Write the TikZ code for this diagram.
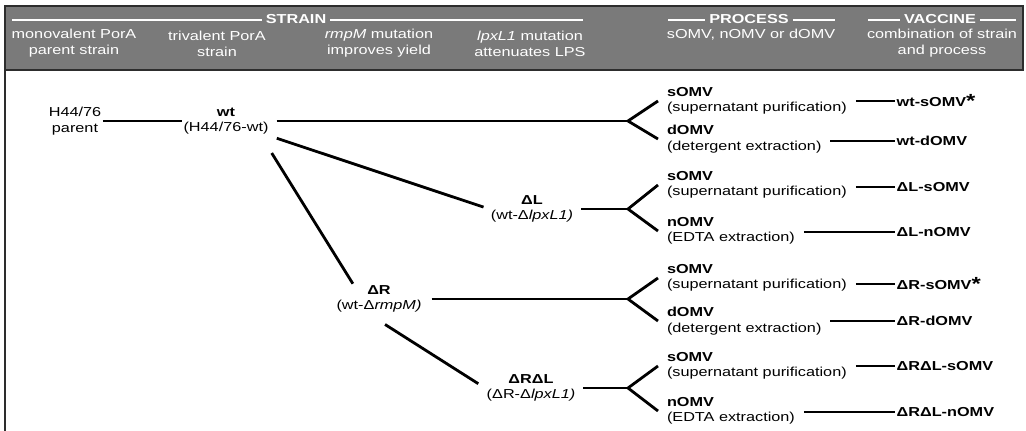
\documentclass[tikz,border=0pt]{standalone}
\usepackage{fontspec}
\setmainfont{Liberation Sans}[FakeStretch=1.25]
\definecolor{headgray}{RGB}{122,122,122}
\definecolor{headedge}{RGB}{45,45,45}
\newcommand{\bigast}{\raisebox{-1pt}{\fontsize{19}{19}\selectfont *}}
\begin{document}
\begin{tikzpicture}[x=1pt, y=-1pt,
    every node/.style={font=\fontsize{13}{15.5}\selectfont},
    strain/.style={align=center, inner sep=1.5pt},
    proc/.style={align=left, anchor=west, inner xsep=0pt, outer xsep=9pt},
    vac/.style={anchor=west, inner xsep=1.5pt, font=\fontsize{13}{15.5}\selectfont\bfseries},
    head/.style={text=white, inner xsep=4pt, font=\fontsize{13}{15.5}\selectfont\bfseries},
    sub/.style={text=white, align=center, font=\fontsize{13}{16}\selectfont},
    link/.style={line width=2.8pt},
    hline/.style={white, line width=2pt}]

    \useasboundingbox (0,0) rectangle (1026,431);

    % Header band
    \draw[fill=headgray, draw=headedge, line width=1.5pt] (5,6) rectangle (1023,70);
    \draw[headedge, line width=2pt] (5,70) -- (5,431);

    % Header titles
    \node[head] (tS) at (296,19.5) {STRAIN};
    \node[head] (tP) at (749,19.5) {PROCESS};
    \node[head] (tV) at (940,19.5) {VACCINE};
    \coordinate (sA) at (12,19.5);
    \coordinate (sB) at (583,19.5);
    \coordinate (pA) at (668,19.5);
    \coordinate (pB) at (835,19.5);
    \coordinate (vA) at (868,19.5);
    \coordinate (vB) at (1016,19.5);
    \draw[hline] (sA) -- (tS);
    \draw[hline] (tS) -- (sB);
    \draw[hline] (pA) -- (tP);
    \draw[hline] (tP) -- (pB);
    \draw[hline] (vA) -- (tV);
    \draw[hline] (tV) -- (vB);

    % Header subtitles
    \node[sub] (h1) at (74,43.5) {monovalent PorA\\parent strain};
    \node[sub] (h2) at (217,43.5) {trivalent PorA\\strain};
    \node[sub] (h3) at (379,43.5) {\textit{rmpM} mutation\\improves yield};
    \node[sub] (h4) at (530,43.5) {\textit{lpxL1} mutation\\attenuates LPS};
    \node[sub] (h5) at (751,34.5) {sOMV, nOMV or dOMV};
    \node[sub] (h6) at (942,43.5) {combination of strain\\and process};

    % Strains
    \node[strain] (par) at (75,121) {H44/76\\parent};
    \node[strain] (wt) at (226,121) {\textbf{wt}\\(H44/76-wt)};
    \node[strain] (dL) at (532,209) {\textbf{ΔL}\\(wt-Δ\textit{lpxL1)}};
    \node[strain] (dR) at (379,299) {\textbf{ΔR}\\(wt-Δ\textit{rmpM)}};
    \node[strain] (dRL) at (531,388) {\textbf{ΔRΔL}\\(ΔR-Δ\textit{lpxL1)}};

    % Forks
    \coordinate (f1) at (628,121);
    \coordinate (f2) at (628,209);
    \coordinate (f3) at (628,299);
    \coordinate (f4) at (628,388);

    % Processes
    \node[proc] (p1) at (658,101) {\textbf{sOMV}\\(supernatant purification)};
    \node[proc] (p2) at (658,139) {\textbf{dOMV}\\(detergent extraction)};
    \node[proc] (p3) at (658,185) {\textbf{sOMV}\\(supernatant purification)};
    \node[proc] (p4) at (658,231) {\textbf{nOMV}\\(EDTA extraction)};
    \node[proc] (p5) at (658,278) {\textbf{sOMV}\\(supernatant purification)};
    \node[proc] (p6) at (658,321) {\textbf{dOMV}\\(detergent extraction)};
    \node[proc] (p7) at (658,366) {\textbf{sOMV}\\(supernatant purification)};
    \node[proc] (p8) at (658,411) {\textbf{nOMV}\\(EDTA extraction)};

    % Vaccines
    \node[vac] (v1) at (895,101) {wt-sOMV\bigast};
    \node[vac] (v2) at (895,141) {wt-dOMV};
    \node[vac] (v3) at (895,187) {ΔL-sOMV};
    \node[vac] (v4) at (895,232) {ΔL-nOMV};
    \node[vac] (v5) at (895,284) {ΔR-sOMV\bigast};
    \node[vac] (v6) at (895,321) {ΔR-dOMV};
    \node[vac] (v7) at (895,366) {ΔRΔL-sOMV};
    \node[vac] (v8) at (895,412) {ΔRΔL-nOMV};

    % Strain lineage
    \draw[link] (par) -- (wt);
    \draw[link, shorten <=7pt, shorten >=6pt] (wt.south east) -- (dL.west);
    \draw[link, shorten <=20pt] ([xshift=-9pt]wt.south east) -- ([xshift=18pt]dR.north west);
    \draw[link, shorten <=19pt, shorten >=8pt] ([xshift=-10pt]dR.south) -- (dRL.west);

    % Strain to fork
    \draw[link, shorten <=6.5pt] (wt) -- (f1);
    \draw[link, shorten <=6.5pt] (dL) -- (f2);
    \draw[link, shorten <=8.5pt] (dR) -- (f3);
    \draw[link, shorten <=6.5pt] (dRL) -- (f4);

    % Fork branches
    \foreach \f/\a/\b in {1/1/2, 2/3/4, 3/5/6, 4/7/8} {
        \draw[link] (p\a.west) -- (f\f) -- (p\b.west);
    }

    % Process to vaccine
    \foreach \i in {1,...,8} {
        \draw[link] (p\i.east |- v\i) -- (v\i);
    }

\end{tikzpicture}
\end{document}
